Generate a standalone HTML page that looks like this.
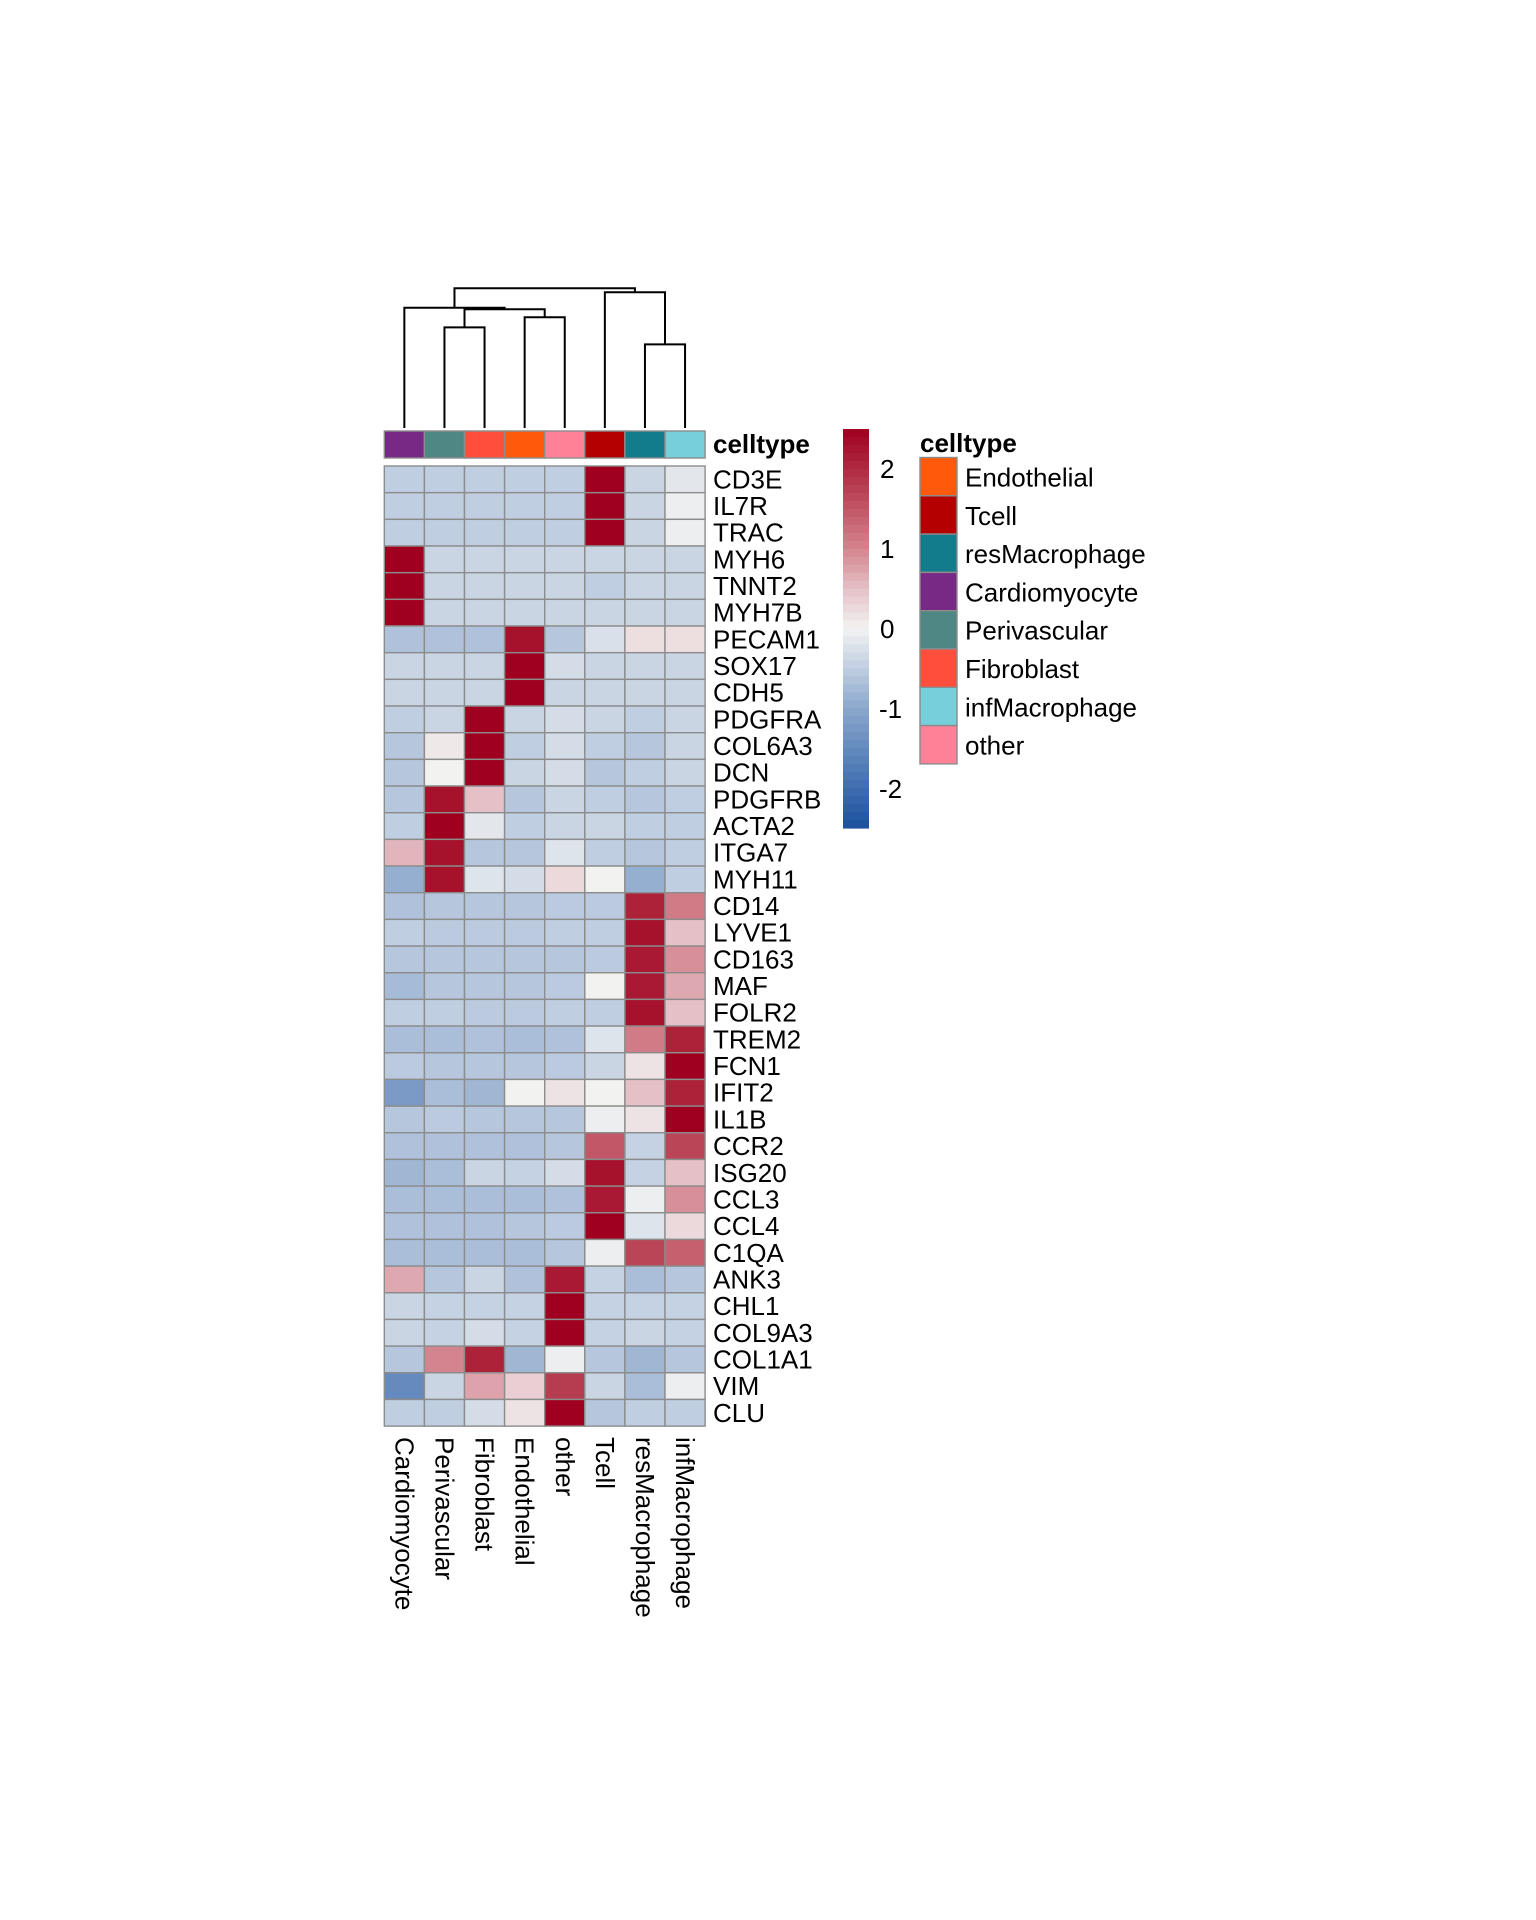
<!DOCTYPE html>
<html><head><meta charset="utf-8"><style>
html,body{margin:0;padding:0;background:#fff;}
svg{display:block;font-family:"Liberation Sans",Arial,sans-serif;}
</style></head><body>
<svg id="chart" width="1536" height="1920" viewBox="0 0 1536 1920" xmlns="http://www.w3.org/2000/svg">
<g id="dendro"></g>
<g id="annot"></g>
<g id="cells"></g>
<g id="rowlabels"></g>
<g id="collabels"></g>
<g id="cbar"></g>
<g id="legend"></g>
</svg>
<script>
const columns = ["Cardiomyocyte","Perivascular","Fibroblast","Endothelial","other","Tcell","resMacrophage","infMacrophage"];
const columnColors = ["#772A85","#4E8784","#FF4E3C","#FF5A0B","#FF8198","#B40000","#137C8C","#76CFDA"];
const genes = ["CD3E","IL7R","TRAC","MYH6","TNNT2","MYH7B","PECAM1","SOX17","CDH5","PDGFRA","COL6A3","DCN","PDGFRB","ACTA2","ITGA7","MYH11","CD14","LYVE1","CD163","MAF","FOLR2","TREM2","FCN1","IFIT2","IL1B","CCR2","ISG20","CCL3","CCL4","C1QA","ANK3","CHL1","COL9A3","COL1A1","VIM","CLU"];
const values = [
[-0.5,-0.5,-0.5,-0.5,-0.5,2.5,-0.4,-0.15],
[-0.5,-0.5,-0.5,-0.5,-0.5,2.5,-0.4,-0.05],
[-0.5,-0.5,-0.5,-0.5,-0.5,2.5,-0.4,-0.05],
[2.5,-0.4,-0.4,-0.4,-0.4,-0.4,-0.4,-0.4],
[2.5,-0.4,-0.4,-0.4,-0.4,-0.5,-0.4,-0.4],
[2.5,-0.4,-0.4,-0.4,-0.4,-0.4,-0.4,-0.4],
[-0.65,-0.65,-0.65,2.3,-0.6,-0.25,0.2,0.2],
[-0.4,-0.4,-0.4,2.5,-0.3,-0.4,-0.4,-0.4],
[-0.4,-0.4,-0.4,2.5,-0.4,-0.4,-0.4,-0.4],
[-0.5,-0.4,2.5,-0.4,-0.3,-0.4,-0.5,-0.4],
[-0.6,0.1,2.5,-0.5,-0.3,-0.5,-0.6,-0.4],
[-0.6,0.0,2.5,-0.4,-0.3,-0.6,-0.5,-0.4],
[-0.6,2.3,0.5,-0.6,-0.4,-0.5,-0.6,-0.5],
[-0.5,2.5,-0.15,-0.5,-0.4,-0.4,-0.5,-0.5],
[0.6,2.3,-0.6,-0.6,-0.2,-0.5,-0.6,-0.5],
[-0.9,2.3,-0.2,-0.3,0.25,0,-0.9,-0.5],
[-0.65,-0.6,-0.6,-0.6,-0.55,-0.55,2.1,1.1],
[-0.5,-0.55,-0.55,-0.55,-0.5,-0.5,2.3,0.5],
[-0.6,-0.6,-0.6,-0.6,-0.6,-0.55,2.2,0.9],
[-0.75,-0.6,-0.6,-0.6,-0.55,0,2.2,0.7],
[-0.5,-0.5,-0.55,-0.55,-0.5,-0.5,2.3,0.5],
[-0.7,-0.7,-0.65,-0.7,-0.65,-0.2,1.1,2.1],
[-0.55,-0.6,-0.6,-0.6,-0.55,-0.4,0.15,2.5],
[-1.2,-0.7,-0.8,0,0.15,0,0.5,2.1],
[-0.6,-0.55,-0.6,-0.6,-0.6,-0.05,0.15,2.5],
[-0.65,-0.65,-0.65,-0.65,-0.6,1.5,-0.45,1.7],
[-0.8,-0.7,-0.4,-0.45,-0.3,2.3,-0.45,0.5],
[-0.7,-0.7,-0.7,-0.7,-0.65,2.2,-0.05,0.9],
[-0.65,-0.65,-0.65,-0.6,-0.55,2.5,-0.2,0.25],
[-0.7,-0.7,-0.7,-0.7,-0.6,-0.05,1.7,1.4],
[0.7,-0.6,-0.4,-0.65,2.2,-0.45,-0.7,-0.6],
[-0.4,-0.45,-0.45,-0.45,2.5,-0.45,-0.45,-0.45],
[-0.4,-0.45,-0.3,-0.45,2.5,-0.45,-0.4,-0.45],
[-0.6,1.0,2.1,-0.8,-0.05,-0.6,-0.8,-0.6],
[-1.5,-0.4,0.75,0.35,1.8,-0.4,-0.7,-0.05],
[-0.5,-0.5,-0.3,0.15,2.5,-0.6,-0.5,-0.5]
];
const legendOrder = ["Endothelial","Tcell","resMacrophage","Cardiomyocyte","Perivascular","Fibroblast","infMacrophage","other"];
const scaleTicks = [2,1,0,-1,-2];
// dendrogram merges: [left, right, height] ; ids 0-7 leaves, 8+ merges
const merges = [[1,2,0.663],[3,4,0.729],[8,9,0.782],[0,10,0.792],[6,7,0.551],[5,12,0.894],[11,13,0.92]];

const NS="http://www.w3.org/2000/svg";
function mk(tag,attrs,parent){const e=document.createElementNS(NS,tag);for(const k in attrs)e.setAttribute(k,attrs[k]);parent.appendChild(e);return e;}
const X0=384.3, CW=40.1, Y0=466, RH=26.67;
const xCol=i=>X0+i*CW;
const yRow=r=>Y0+r*RH;
const stops=[[-2.5,[27,79,158]],[-2,[62,109,175]],[-1,[138,167,204]],[-0.5,[192,206,225]],[0,[242,242,241]],[0.5,[229,192,199]],[1,[212,132,142]],[2,[175,42,64]],[2.5,[160,0,31]]];
function col(v){v=Math.max(-2.5,Math.min(2.5,v));for(let i=0;i<stops.length-1;i++){const[a,ca]=stops[i],[b,cb]=stops[i+1];if(v<=b){const t=(v-a)/(b-a);return "rgb("+ca.map((c,k)=>Math.round(c+(cb[k]-c)*t)).join(",")+")";}}return "rgb(160,0,31)";}
const cells=document.getElementById('cells');
values.forEach((row,r)=>row.forEach((v,c)=>{
 const el=mk('rect',{x:xCol(c),y:yRow(r),width:CW,height:RH,fill:col(v),stroke:'#8c8c8c','stroke-width':1.4},cells);
 
 
}));
const rl=document.getElementById('rowlabels');
genes.forEach((g,r)=>{const t=mk('text',{x:713,y:yRow(r)+RH/2+9,'font-size':26,fill:'#000'},rl);t.textContent=g;
 
 });
const cl=document.getElementById('collabels');
columns.forEach((n,c)=>{const cx=xCol(c)+CW/2;const t=mk('text',{x:0,y:0,'font-size':26,fill:'#000',transform:`translate(${cx-9},1437) rotate(90)`},cl);t.textContent=n;
 
 });
const an=document.getElementById('annot');
columns.forEach((n,c)=>{const el=mk('rect',{x:xCol(c),y:431,width:CW,height:27,fill:columnColors[c],stroke:'#8c8c8c','stroke-width':1.4},an);
 
 });
const at=mk('text',{x:713,y:453,'font-size':26,'font-weight':'bold'},an);at.textContent='celltype';


const dg=document.getElementById('dendro');
const yH=h=>428-(h/0.92)*(428-288.3);
const nodes=columns.map((_,i)=>({x:xCol(i)+CW/2,y:428}));
merges.forEach(([a,b,h])=>{const A=nodes[a],B=nodes[b],y=yH(h);
 const p=mk('path',{d:`M${A.x},${A.y}V${y}H${B.x}V${B.y}`,fill:'none',stroke:'#000','stroke-width':2},dg);
 
 
 nodes.push({x:(A.x+B.x)/2,y:y});});
const cb=document.getElementById('cbar');
const cbTop=429,cbBot=828,vTop=2.5,vBot=-2.49;
const yVal=v=>cbTop+(vTop-v)/(vTop-vBot)*(cbBot-cbTop);
const N=50;
for(let i=0;i<N;i++){const v1=vTop-(vTop-vBot)*i/N,v2=vTop-(vTop-vBot)*(i+1)/N;
 const r=mk('rect',{x:843,y:yVal(v1),width:26,height:yVal(v2)-yVal(v1)+0.6,fill:col((v1+v2)/2)},cb);
 
 }
scaleTicks.forEach(v=>{const t=mk('text',{x:v<0?879:880,y:yVal(v)+9,'font-size':26},cb);t.textContent=String(v);
 
 });
const lg=document.getElementById('legend');
const lt=mk('text',{x:920,y:452,'font-size':26,'font-weight':'bold'},lg);lt.textContent='celltype';


legendOrder.forEach((n,i)=>{const y=457.5+i*38.3;
 const r=mk('rect',{x:920,y:y,width:37,height:38.3,fill:columnColors[columns.indexOf(n)],stroke:'#8c8c8c','stroke-width':1.4},lg);
 
 
 const t=mk('text',{x:965,y:y+29,'font-size':26},lg);t.textContent=n;
 
 });
</script>
</body></html>
